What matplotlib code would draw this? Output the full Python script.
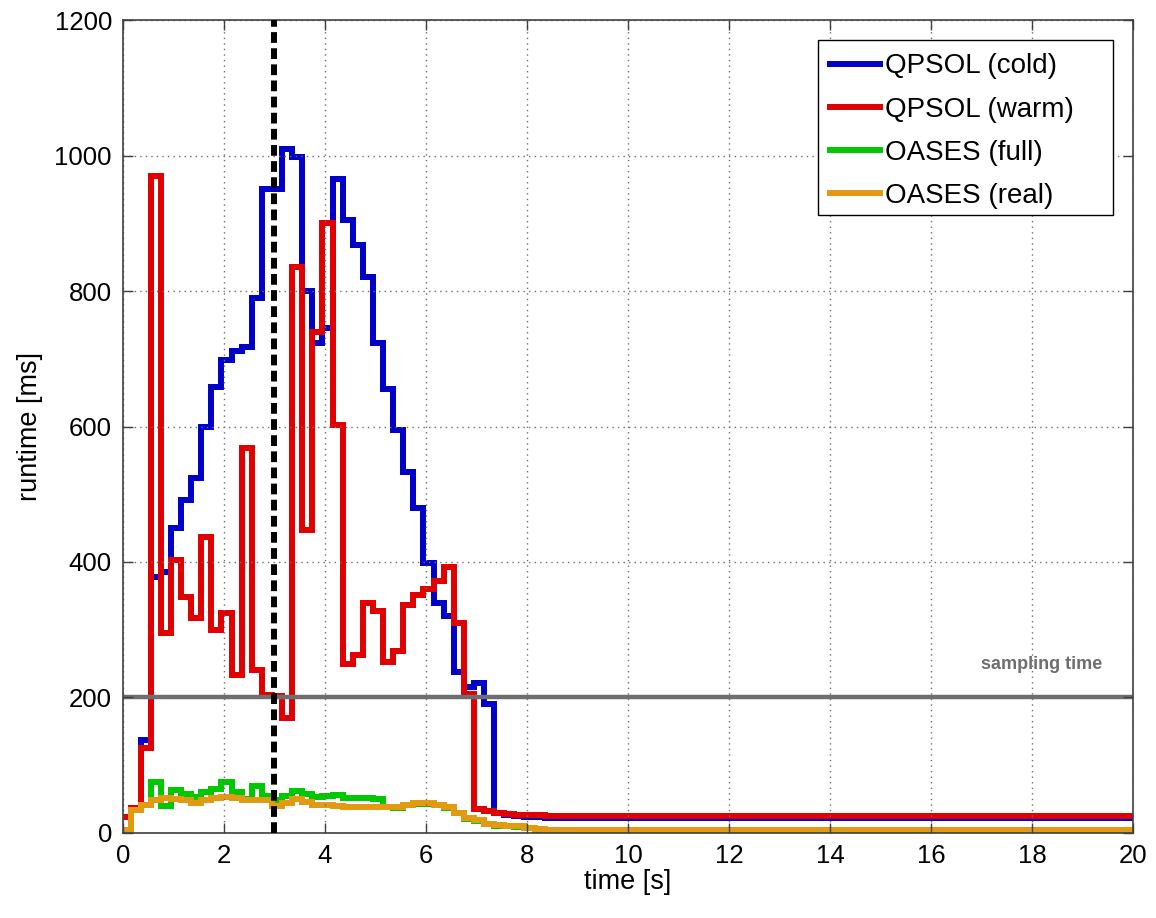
import numpy as np
import matplotlib
matplotlib.use('Agg')
import matplotlib.pyplot as plt
from matplotlib.lines import Line2D
from matplotlib.patches import Rectangle

plt.rcParams['font.family'] = ['Liberation Sans', 'DejaVu Sans']

# ---- time grid (s): controller samples every 0.2 s, first switch at 0.15 s ----
t_end = 20.0
t_switch = np.round(np.arange(0.15, 8.36, 0.2), 2)
edges = np.concatenate([[0.0], t_switch, [t_end]])

# ---- runtimes (ms), one value per interval: [pre, k0..k40, tail] ----
qpsol_cold = [24, 37, 138, 378, 385, 450, 491, 524, 600, 659, 698, 712, 718, 790,
              950, 950, 1010, 998, 800, 723, 745, 965, 905, 868, 821, 723, 656,
              595, 533, 480, 398, 340, 320, 238, 215, 222, 190, 30, 27, 25, 24, 23, 22]
qpsol_warm = [24, 37, 125, 970, 295, 403, 349, 317, 437, 300, 325, 233, 568, 240,
              204, 202, 170, 835, 447, 740, 900, 602, 250, 262, 340, 327, 253,
              268, 337, 351, 360, 372, 393, 310, 205, 35, 32, 30, 28, 27, 26, 26, 25]
oases_full = [5, 34, 41, 76, 40, 63, 58, 53, 60, 65, 76, 60, 50, 70,
              55, 48, 55, 62, 58, 53, 55, 56, 52, 51, 52, 50, 38,
              37, 41, 43, 43, 41, 37, 29, 21, 18, 13, 11, 10, 9, 7, 5, 4]
oases_real = [4, 34, 41, 49, 51, 50, 48, 44, 48, 51, 53, 52, 49, 48,
              49, 40, 45, 50, 46, 42, 41, 40, 39, 39, 38, 38, 39,
              38, 42, 44, 44, 42, 38, 30, 22, 19, 14, 12, 11, 10, 8, 6, 5]

series_labels = ['QPSOL (cold)', 'QPSOL (warm)', 'OASES (full)', 'OASES (real)']
series_colors = ['#0000C8', '#E00000', '#00C800', '#E29A12']

sampling_time = 200
marker_time = 3.0
xticks = list(range(0, 21, 2))
yticks = list(range(0, 1201, 200))

fig = plt.figure(figsize=(11.56, 9.18), dpi=100)
ax = fig.add_axes([0.1064, 0.0926, 0.8736, 0.8856])

LW = 4.3
for vals, lab, col in zip([qpsol_cold, qpsol_warm, oases_full, oases_real],
                          series_labels, series_colors):
    ax.stairs(vals, edges, color=col, lw=LW, label=lab, baseline=None)

ax.axhline(sampling_time, color='#6E6E6E', lw=3.2, zorder=1.5)
ax.axvline(marker_time, color='black', lw=LW, dashes=(1.8, 0.9), zorder=5)
ax.text(18.2, 248, 'sampling time', color='#6E6E6E', fontsize=13,
        fontweight='bold', ha='center', va='center')

ax.set_xlim(0, 20)
ax.set_ylim(0, 1200)
ax.set_xticks(xticks)
ax.set_yticks(yticks)
ax.tick_params(direction='in', top=True, right=True, length=7, width=1,
               labelsize=18.5, colors='#404040', labelcolor='black', pad=8)
ax.grid(True, linestyle=(0, (1, 3)), color='#707070', lw=1)
for s in ax.spines.values():
    s.set_color('#404040')
    s.set_linewidth(1.2)

ax.set_xlabel('time [s]', fontsize=19.5, labelpad=1)
ax.set_ylabel('runtime [ms]', fontsize=19.5, labelpad=8)

# legend box (MATLAB style, wide right padding)
ax.add_patch(Rectangle((0.688, 0.760), 0.292, 0.215, transform=ax.transAxes,
                       facecolor='white', edgecolor='black', lw=1.0, zorder=6))
leg_handles = [Line2D([], [], color=c, lw=LW) for c in series_colors]
leg = ax.legend(leg_handles, series_labels, loc='upper left',
                bbox_to_anchor=(0.700, 0.959), fontsize=20,
                frameon=False, borderaxespad=0, borderpad=0,
                handlelength=1.8, handletextpad=0.2, labelspacing=0.62)
leg.set_zorder(7)

fig.savefig('out.png', dpi=100)
